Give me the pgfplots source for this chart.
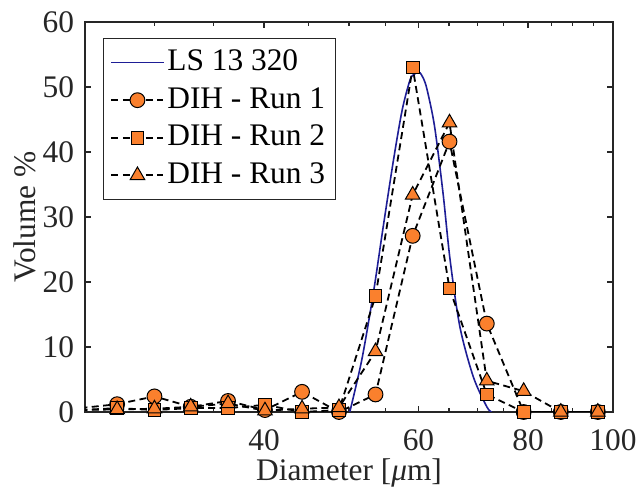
\documentclass[border=0pt]{standalone}
\usepackage{fontspec}
\setmainfont{Liberation Serif}
\usepackage{pgfplots}
\pgfplotsset{compat=1.18}
\definecolor{lsblue}{RGB}{30,30,150}
\definecolor{morange}{RGB}{250,128,45}
\definecolor{axgray}{RGB}{38,38,38}
\begin{document}
\fontsize{15.7}{18}\selectfont
\begin{tikzpicture}
\begin{axis}[
  scale only axis, width=264pt, height=195pt,
  xmode=log, xmin=25, xmax=100, ymin=0, ymax=60,
  xtick={40,60,80,100}, xticklabels={40,60,80,100},
  minor xtick={30,35,45,50,55,65,70,75,85,90,95},
  ytick={0,10,20,30,40,50,60},
  tick align=inside, major tick length=3pt, minor tick length=1.8pt,
  axis line style={line width=0.75pt, draw=axgray},
  every tick/.style={axgray, line width=0.6pt},
  tick label style={font=\fontsize{15.7}{18}\selectfont, text=axgray},
  xticklabel style={yshift=-3.5pt},
  /pgf/number format/assume math mode=true,
  xlabel={Diameter [\textit{μ}m]}, ylabel={Volume \%},
  label style={font=\fontsize{15.7}{18}\selectfont, text=axgray},
  xlabel style={at={(axis description cs:0.5,0)}, anchor=base, yshift=-34.5pt},
  ylabel style={at={(axis description cs:-0.1136,0.5)}, anchor=center, rotate=0},
  legend cell align=left,
  legend style={at={(axis description cs:0.034,0.959)}, anchor=north west,
    draw=axgray, line width=0.6pt, inner sep=3.5pt, row sep=1.8pt,
    font=\fontsize{15.7}{18}\selectfont,
    nodes={inner sep=1.5pt, text height=11pt, text depth=3pt}},
  legend image code/.code={\draw[mark repeat=2,mark phase=2,#1] plot coordinates {(0pt,0pt)(13pt,0pt)(26pt,0pt)};},
]
% LS 13 320
\addplot[lsblue, line width=0.8pt, smooth, tension=0.5, no marks] coordinates {
 (50.1,0) (51.7,8.0) (53.3,18.3) (54.7,28.5) (56.2,38.8) (57.5,46.5) (58.7,51.1)
 (59.4,52.0) (60.1,52.3) (60.8,51.3) (61.4,49.5) (62.6,43.9) (64.0,33.7) (65.2,23.4) (66.9,13.1)
 (69.3,5.4) (71.8,0.8) (72.7,0)
};
\addlegendentry{LS 13 320}
% Run 1
\addplot[black, line width=0.9pt, dash pattern=on 3.5pt off 2.2pt, mark=*, mark size=3.7pt,
  mark options={solid, fill=morange, draw=black, line width=0.5pt}] coordinates {
 (27.2,1.2) (30.0,2.4) (33.0,0.8) (36.4,1.7) (40.1,0.3) (44.2,3.1) (48.7,0)
 (53.6,2.7) (59.1,27.1) (65.1,41.6) (71.8,13.6) (79.1,0) (87.2,0) (96.1,0)
};
\addlegendentry{DIH - Run 1}
\addplot[black, line width=0.9pt, dash pattern=on 3.5pt off 2.2pt, forget plot] coordinates {(24.7,0.6) (27.2,1.2)};
% Run 2
\addplot[black, line width=0.9pt, dash pattern=on 3.5pt off 2.2pt, mark=square*, mark size=3.2pt,
  mark options={solid, fill=morange, draw=black, line width=0.5pt}] coordinates {
 (27.2,0.6) (30.0,0.3) (33.0,0.6) (36.4,0.6) (40.1,1.1) (44.2,0) (48.7,0.3)
 (53.6,17.8) (59.1,53.0) (65.1,19.0) (71.8,2.7) (79.1,0) (87.2,0) (96.1,0)
};
\addlegendentry{DIH - Run 2}
\addplot[black, line width=0.9pt, dash pattern=on 3.5pt off 2.2pt, forget plot] coordinates {(24.7,0.3) (27.2,0.6)};
% Run 3
\addplot[black, line width=0.9pt, dash pattern=on 3.5pt off 2.2pt, mark=triangle*, mark size=4.2pt,
  mark options={solid, fill=morange, draw=black, line width=0.5pt}] coordinates {
 (27.2,0.4) (30.0,0.5) (33.0,0.8) (36.4,1.3) (40.1,0.2) (44.2,0.5) (48.7,0.7)
 (53.6,9.3) (59.1,33.4) (65.1,44.5) (71.8,4.8) (79.1,3.2) (87.2,0) (96.1,0)
};
\addlegendentry{DIH - Run 3}
\addplot[black, line width=0.9pt, dash pattern=on 3.5pt off 2.2pt, forget plot] coordinates {(24.7,0.3) (27.2,0.4)};
\end{axis}
\pgfresetboundingbox
\path ([xshift=-42.5pt,yshift=-39.5pt]current axis.south west) rectangle ([xshift=11.5pt,yshift=11pt]current axis.north east);
\end{tikzpicture}
\end{document}
